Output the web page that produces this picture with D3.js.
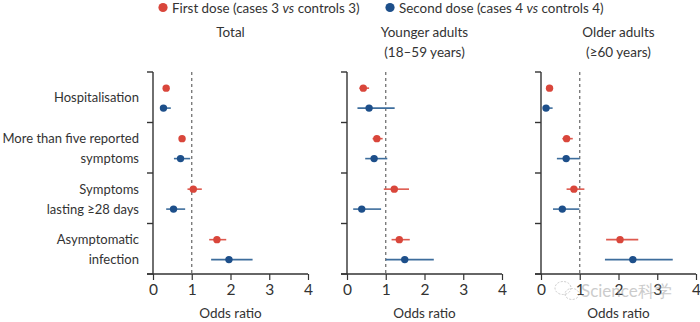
<!DOCTYPE html>
<html><head><meta charset="utf-8">
<script src="https://cdn.jsdelivr.net/npm/d3@7"></script>
<style>
body{margin:0;background:#fff;}
text{font-family:Lato,"Noto Sans",sans-serif;fill:#333;}
</style></head>
<body><svg id="c" width="700" height="322"></svg>
<script>
const outcomes = ["Hospitalisation","More than five reported symptoms","Symptoms lasting ≥28 days","Asymptomatic infection"];
const outcomeLines = [["Hospitalisation"],["More than five reported","symptoms"],["Symptoms","lasting ≥28 days"],["Asymptomatic","infection"]];
const panelTitles = [["Total"],["Younger adults","(18–59 years)"],["Older adults","(≥60 years)"]];
const doses = ["First dose","Second dose"];
const xTicks = [0,1,2,3,4];
// [estimate, lower, upper] per outcome; panels: Total, Younger, Older
const firstDoseTotal   = [[0.34,0.29,0.40],[0.75,0.68,0.83],[1.04,0.89,1.26],[1.65,1.45,1.89]];
const secondDoseTotal  = [[0.27,0.19,0.46],[0.71,0.54,0.96],[0.53,0.34,0.83],[1.96,1.50,2.57]];
const firstDoseYounger = [[0.42,0.32,0.57],[0.77,0.66,0.92],[1.22,0.95,1.60],[1.35,1.15,1.62]];
const secondDoseYounger= [[0.57,0.27,1.23],[0.70,0.47,1.04],[0.38,0.16,0.88],[1.49,1.00,2.24]];
const firstDoseOlder   = [[0.22,0.18,0.27],[0.66,0.55,0.82],[0.85,0.66,1.12],[2.04,1.68,2.51]];
const secondDoseOlder  = [[0.13,0.06,0.30],[0.65,0.41,1.00],[0.55,0.31,0.99],[2.37,1.65,3.40]];

const panels = [[firstDoseTotal,secondDoseTotal],[firstDoseYounger,secondDoseYounger],[firstDoseOlder,secondDoseOlder]];
const dotColors = ["#d9463b","#1d4f8a"];
const lineColors = ["#de5a4f","#3d6d9c"];

const svg = d3.select("#c");
const panelX = [153,347,541];
const pw = 155, yTop = 72, yBottom = 274;
const y = d3.scaleBand().domain(outcomes).range([yTop,yBottom]);
const bw = y.bandwidth();
const doseOff = d3.scalePoint().domain(doses).range([0.32*bw,0.715*bw]);

// legend
const leg = svg.append("g");
[[163,0],[390,1]].forEach(([lx,i])=>{
  leg.append("circle").attr("cx",lx).attr("cy",7.5).attr("r",4.6).attr("fill",dotColors[i]);
  const t = leg.append("text").attr("x",lx+9).attr("y",8.5).attr("dy","0.35em").attr("font-size",13.4);
  const n = i===0?3:4;
  t.append("tspan").text(doses[i]+" (cases "+n+" ");
  t.append("tspan").attr("font-style","italic").text("vs");
  t.append("tspan").text(" controls "+n+")");
});

panels.forEach((series,p)=>{
  const g = svg.append("g").attr("transform",`translate(${panelX[p]},0)`);
  const x = d3.scaleLinear().domain([0,4]).range([0,pw]);
  panelTitles[p].forEach((s,k)=>{
    g.append("text").attr("x",pw/2).attr("y",32+k*20).attr("dy","0.35em").attr("text-anchor","middle").attr("font-size",13.5).text(s);
  });
  const bounds = outcomes.map(o=>y(o)).concat([yBottom]);
  g.append("line").attr("x1",0).attr("x2",0).attr("y1",yTop).attr("y2",yBottom).attr("stroke","#333").attr("stroke-width",1.4);
  bounds.forEach(b=>g.append("line").attr("x1",-6).attr("x2",0).attr("y1",b).attr("y2",b).attr("stroke","#333").attr("stroke-width",1.4));
  const ax = g.append("g").attr("transform",`translate(0,${yBottom})`)
    .call(d3.axisBottom(x).tickValues(xTicks).tickFormat(d3.format("d")).tickSize(6).tickSizeOuter(0).tickPadding(4));
  ax.select(".domain").attr("d",`M-6,0H${pw}`).attr("stroke","#333").attr("stroke-width",1.4);
  ax.selectAll(".tick line").attr("stroke","#333").attr("stroke-width",1.2);
  ax.selectAll(".tick text").attr("font-size",15.5).attr("fill","#333").attr("font-family","Lato, sans-serif");
  g.append("text").attr("x",pw/2).attr("y",313).attr("dy","0.35em").attr("text-anchor","middle").attr("font-size",13.5).text("Odds ratio");
  g.append("line").attr("x1",x(1)).attr("x2",x(1)).attr("y1",yTop).attr("y2",yBottom)
    .attr("stroke","#666").attr("stroke-width",1.2).attr("stroke-dasharray","3,3");
  series.forEach((vals,d)=>{
    const gy = o=>y(o)+doseOff(doses[d]);
    const rows = outcomes.map((o,i)=>({o,v:vals[i]}));
    g.selectAll(null).data(rows).enter().append("line")
      .attr("x1",r=>x(r.v[1])).attr("x2",r=>x(r.v[2]))
      .attr("y1",r=>gy(r.o)).attr("y2",r=>gy(r.o))
      .attr("stroke",lineColors[d]).attr("stroke-width",1.6);
    g.selectAll(null).data(rows).enter().append("circle")
      .attr("cx",r=>x(r.v[0])).attr("cy",r=>gy(r.o)).attr("r",3.7).attr("fill",dotColors[d]);
  });
  if(p===0){
    outcomeLines.forEach((lines,i)=>{
      const o = outcomes[i];
      const ys = lines.length===1 ? [y(o)+bw/2] : doses.map(d=>y(o)+doseOff(d));
      lines.forEach((s,k)=>{
        g.append("text").attr("x",-14).attr("y",ys[k]).attr("dy","0.35em").attr("text-anchor","end")
          .attr("font-size",13).text(s);
      });
    });
  }
});

// watermark
const wm = svg.append("g").attr("opacity",0.5);
wm.append("ellipse").attr("cx",563).attr("cy",288).attr("rx",8).attr("ry",6.5).attr("fill","none").attr("stroke","#999").attr("stroke-width",1).attr("stroke-dasharray","2,1.5");
wm.append("ellipse").attr("cx",572).attr("cy",294).attr("rx",7).attr("ry",5.5).attr("fill","none").attr("stroke","#999").attr("stroke-width",1).attr("stroke-dasharray","2,1.5");
wm.append("text").attr("x",581).attr("y",297).attr("font-size",17).style("fill","#999").attr("font-family","Noto Sans CJK SC, sans-serif").text("Science科学");
</script></body></html>
